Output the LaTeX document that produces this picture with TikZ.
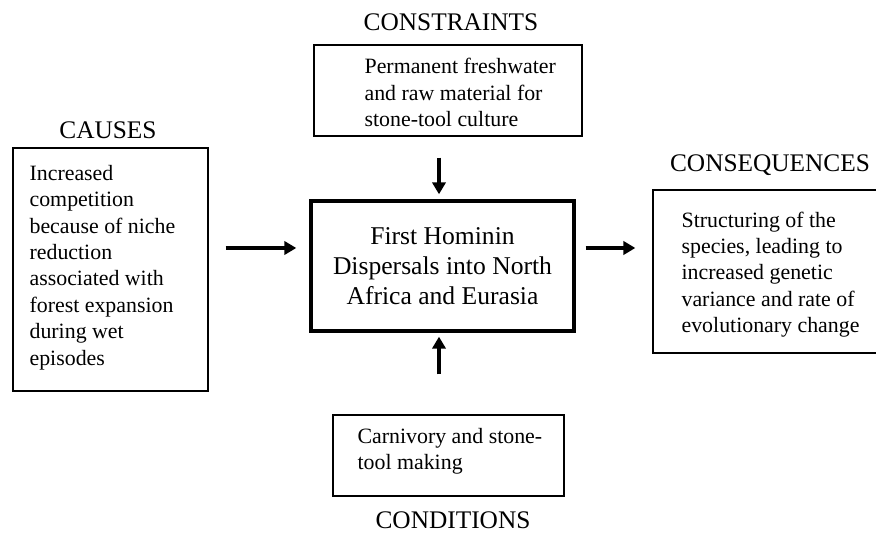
\documentclass[tikz,border=0pt]{standalone}
\usepackage{fontspec}
\setmainfont{Liberation Serif}
\usetikzlibrary{calc,arrows.meta}

\begin{document}
\begin{tikzpicture}[x=0.75pt, y=-0.75pt,
                box/.style = {draw, line width=1pt, rectangle, inner sep=0pt},
                mainbox/.style = {draw, line width=2.6pt, rectangle, inner sep=0pt,
                                  align=center, font=\fontsize{19.2}{22.5}\selectfont},
                boxtext/.style = {inner sep=0pt, anchor=west, align=left,
                                  font=\fontsize{16.4}{19.8}\selectfont},
                heading/.style = {inner sep=0pt, font=\fontsize{19}{22}\selectfont},
                flow/.style = {line width=2.4pt, -{Triangle[length=9pt,width=10pt]}}]
                \useasboundingbox (0,0) rectangle (876,534);
                % the five boxes
                \node[mainbox, minimum width=197.25pt, minimum height=97.5pt] (centre) at (442.5,266)
                    {First Hominin\\Dispersals into North\\Africa and Eurasia};
                \node[box, minimum width=146.25pt, minimum height=182.25pt] (causes) at (110.5,269.5) {};
                \node[box, minimum width=201pt, minimum height=68.25pt] (constraints) at (448,90.5) {};
                \node[box, minimum width=185.25pt, minimum height=122.25pt] (consequences) at (776.5,271.5) {};
                \node[box, minimum width=173.25pt, minimum height=60.75pt] (conditions) at (448.5,455.5) {};
                % texts inside
                \node[boxtext] (causestext) at ($(causes.west)+(17,-2)$)
                    {Increased\\competition\\because of niche\\reduction\\associated with\\forest expansion\\during wet\\episodes};
                \node[boxtext] (constraintstext) at ($(constraints.west)+(51,2)$)
                    {Permanent freshwater\\and raw material for\\stone-tool culture};
                \node[boxtext] (consequencestext) at ($(consequences.west)+(29,3)$)
                    {Structuring of the\\species, leading to\\increased genetic\\variance and rate of\\evolutionary change};
                \node[boxtext] (conditionstext) at ($(conditions.west)+(25,-4)$)
                    {Carnivory and stone-\\tool making};
                % headings
                \node[heading] (causeshead) at (108,130) {CAUSES};
                \node[heading] (constraintshead) at (451,22) {CONSTRAINTS};
                \node[heading] (consequenceshead) at (770,165) {CONSEQUENCES};
                \node[heading] (conditionshead) at (453,520) {CONDITIONS};
                % arrows
                \draw[flow] ($(causes.east)+(17,-21.5)$) -- ($(centre.west)+(-13,-18)$);
                \draw[flow] ($(centre.east)+(10,-18)$) -- ($(consequences.west)+(-17,-23.5)$);
                \draw[flow] ($(constraints.south)+(-9,21)$) -- ($(centre.north)+(-3.5,-5)$);
                \draw[flow] ($(conditions.north)+(-9.5,-40)$) -- ($(centre.south)+(-3.5,4)$);
\end{tikzpicture}
\end{document}
